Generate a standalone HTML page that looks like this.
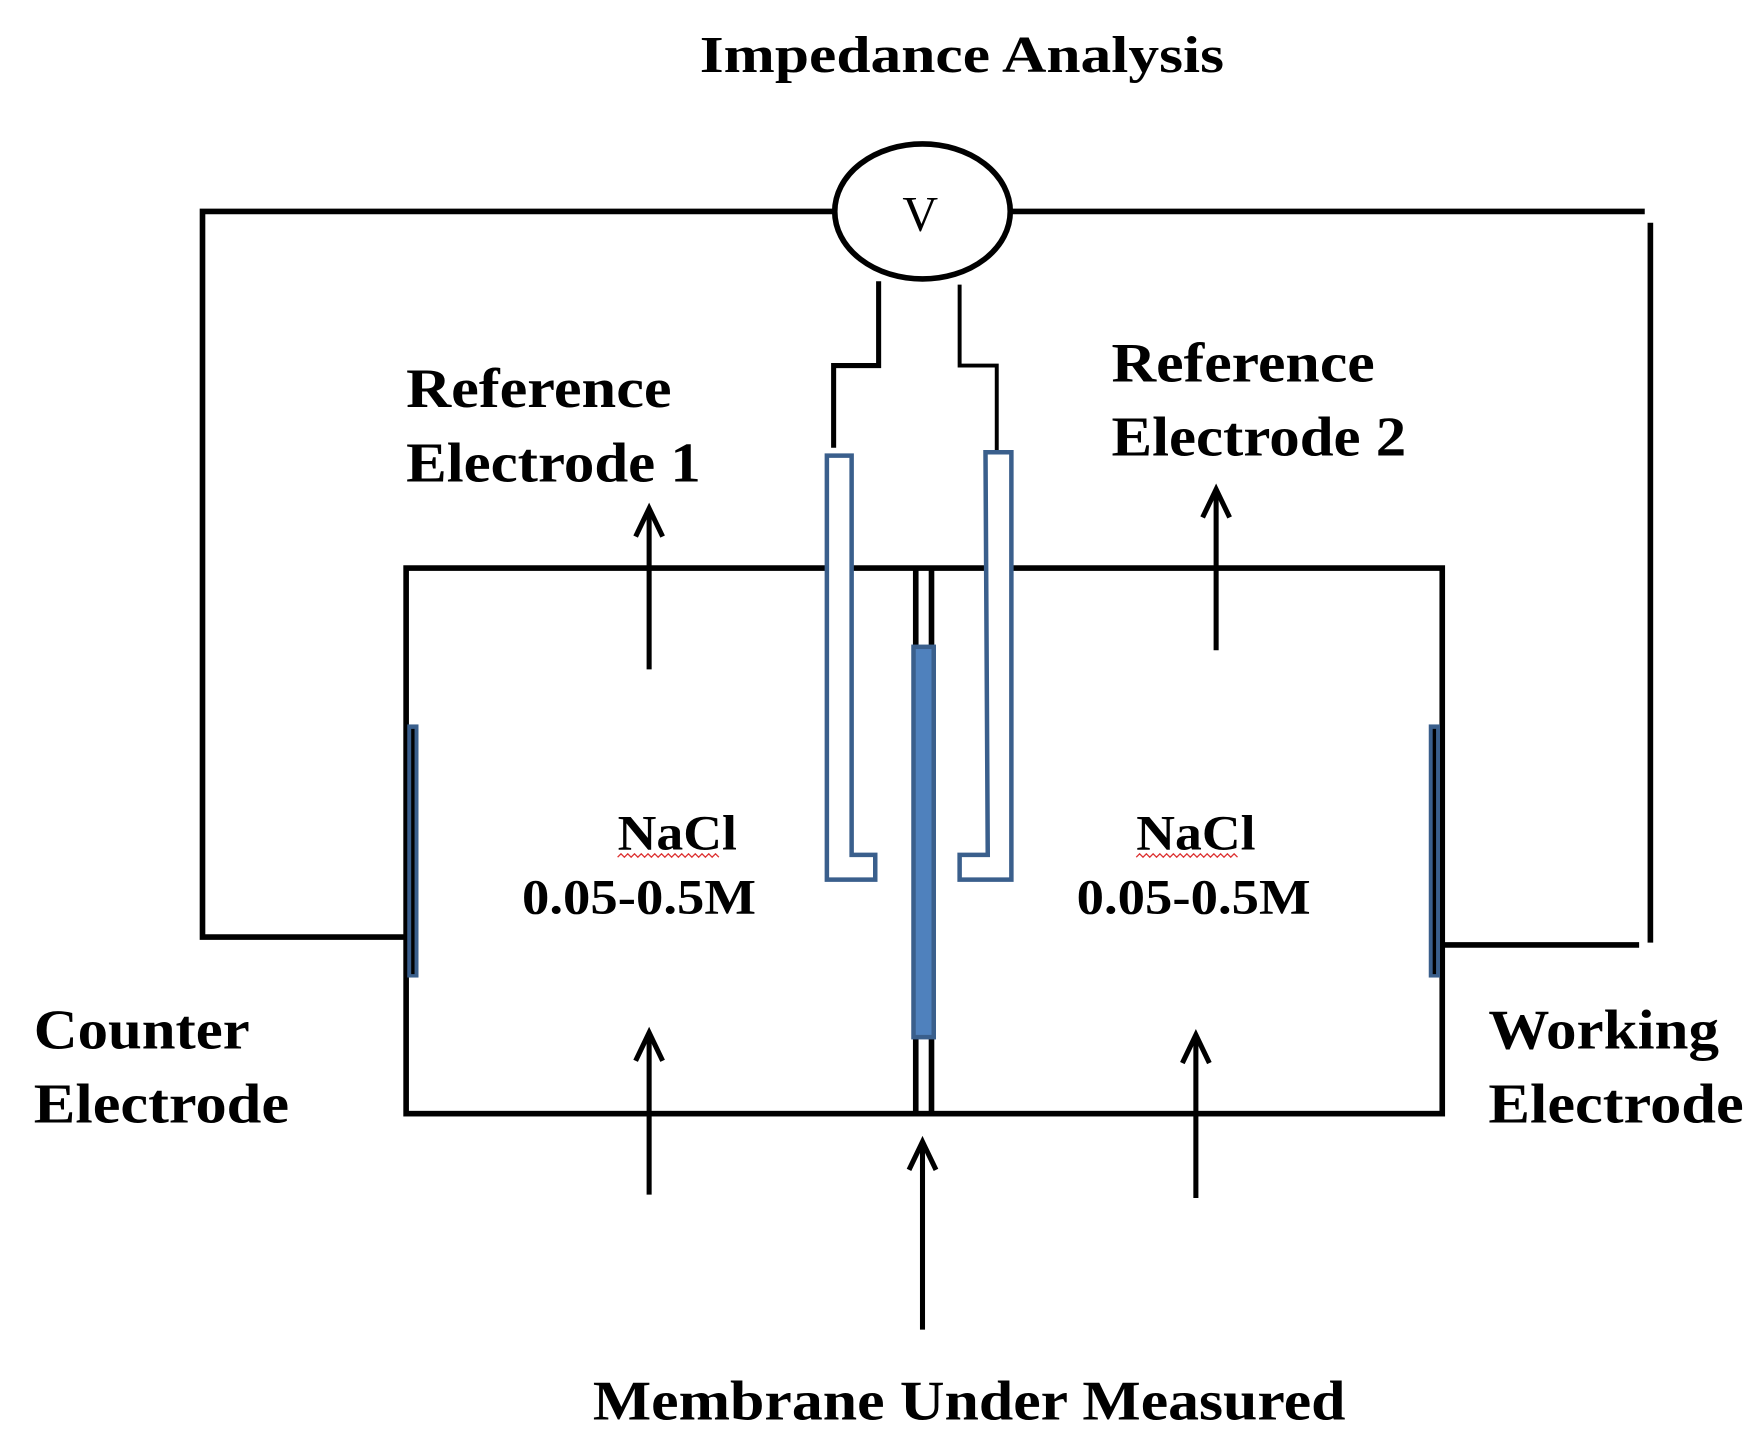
<!DOCTYPE html>
<html><head><meta charset="utf-8"><style>html,body{margin:0;padding:0;background:#fff}svg{display:block}</style></head>
<body>
<svg width="1755" height="1441" viewBox="0 0 1560 1281" preserveAspectRatio="none" xmlns="http://www.w3.org/2000/svg">
<g font-family="'Liberation Serif', serif" font-weight="bold" fill="#000">
<text x="622" y="64" font-size="46" textLength="466" lengthAdjust="spacingAndGlyphs">Impedance Analysis</text>
<text x="361" y="362" font-size="50" textLength="236" lengthAdjust="spacingAndGlyphs">Reference</text>
<text x="361" y="428" font-size="50" textLength="262" lengthAdjust="spacingAndGlyphs">Electrode 1</text>
<text x="988" y="339" font-size="50" textLength="234" lengthAdjust="spacingAndGlyphs">Reference</text>
<text x="988" y="405" font-size="50" textLength="262" lengthAdjust="spacingAndGlyphs">Electrode 2</text>
<text x="30" y="932" font-size="50" textLength="192" lengthAdjust="spacingAndGlyphs">Counter</text>
<text x="30" y="998" font-size="50" textLength="227" lengthAdjust="spacingAndGlyphs">Electrode</text>
<text x="1323" y="932" font-size="50" textLength="205" lengthAdjust="spacingAndGlyphs">Working</text>
<text x="1323" y="998" font-size="50" textLength="227" lengthAdjust="spacingAndGlyphs">Electrode</text>
<text x="549" y="755" font-size="44" textLength="106" lengthAdjust="spacingAndGlyphs">NaCl</text>
<text x="464" y="812" font-size="44" textLength="208" lengthAdjust="spacingAndGlyphs">0.05-0.5M</text>
<text x="1010" y="755" font-size="44" textLength="106" lengthAdjust="spacingAndGlyphs">NaCl</text>
<text x="957" y="812" font-size="44" textLength="208" lengthAdjust="spacingAndGlyphs">0.05-0.5M</text>
<text x="527" y="1262" font-size="50" textLength="669" lengthAdjust="spacingAndGlyphs">Membrane Under Measured</text>
</g>
<text x="818" y="205" font-family="'Liberation Serif', serif" font-size="44" text-anchor="middle">V</text>
<path d="M549 762 l3 -3 3 3 3 -3 3 3 3 -3 3 3 3 -3 3 3 3 -3 3 3 3 -3 3 3 3 -3 3 3 3 -3 3 3 3 -3 3 3 3 -3 3 3 3 -3 3 3 3 -3 3 3 3 -3 3 3 3 -3 3 3 3 -3 3 3" fill="none" stroke="#d33" stroke-width="1.2"/>
<path d="M1010 762 l3 -3 3 3 3 -3 3 3 3 -3 3 3 3 -3 3 3 3 -3 3 3 3 -3 3 3 3 -3 3 3 3 -3 3 3 3 -3 3 3 3 -3 3 3 3 -3 3 3 3 -3 3 3 3 -3 3 3 3 -3 3 3 3 -3 3 3" fill="none" stroke="#d33" stroke-width="1.2"/>
<g fill="none" stroke="#000" stroke-width="5">
<ellipse cx="820" cy="188" rx="78" ry="60"/>
<polyline points="742,188 180,188 180,833 362,833"/>
<polyline points="898,188 1462,188"/>
<line x1="1467" y1="198" x2="1467" y2="838"/>
<line x1="1275" y1="840" x2="1457" y2="840"/>
<polyline points="781,250 781,325 741,325 741,398" stroke-width="4.5"/>
<polyline points="853,253 853,325 886,325 886,400" stroke-width="3.5"/>
<rect x="361" y="505" width="921" height="485"/>
<line x1="814" y1="505" x2="814" y2="990"/>
<line x1="828" y1="505" x2="828" y2="990"/>
</g>
<g fill="#fff" stroke="#3a5f8c" stroke-width="4">
<path d="M735 405 H757 V760 H778 V782 H735 Z"/>
<path d="M876 402 H899 V782 H853 V760 H878 Z"/>
</g>
<rect x="812" y="575" width="18" height="347" fill="#4f81bd" stroke="#3a5f8c" stroke-width="4"/>
<rect x="362" y="644" width="10" height="225" fill="#3a5f8c"/>
<line x1="367" y1="648" x2="367" y2="866" stroke="#000" stroke-width="3"/>
<rect x="1270" y="644" width="10" height="225" fill="#3a5f8c"/>
<line x1="1275" y1="648" x2="1275" y2="866" stroke="#000" stroke-width="3"/>
<g stroke="#000" stroke-width="4.5" fill="none">
<line x1="577" y1="595" x2="577" y2="455"/><polyline points="565,477 577,452 589,477"/>
<line x1="1081" y1="578" x2="1081" y2="438"/><polyline points="1069,460 1081,435 1093,460"/>
<line x1="577" y1="1062" x2="577" y2="921"/><polyline points="565,943 577,918 589,943"/>
<line x1="1063" y1="1065" x2="1063" y2="923"/><polyline points="1051,945 1063,920 1075,945"/>
<line x1="820" y1="1182" x2="820" y2="1018"/><polyline points="808,1040 820,1015 832,1040"/>
</g>
</svg>
</body></html>
